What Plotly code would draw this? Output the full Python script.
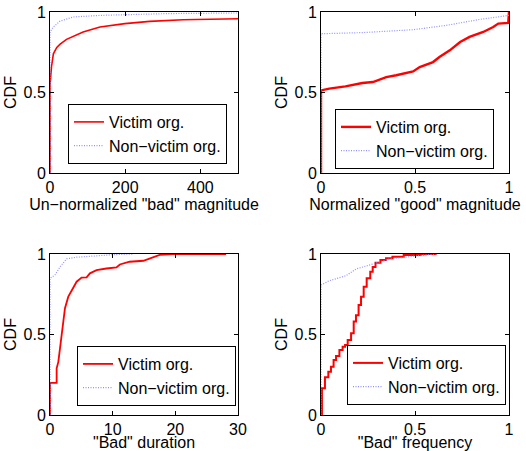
import plotly.graph_objects as go

# ---------------- data ----------------
p1_victim_x = [0, 0, 4, 9, 18, 27, 44, 88, 133, 199, 265, 354, 500]
p1_victim_y = [0, 0.55, 0.66, 0.74, 0.78, 0.80, 0.83, 0.876, 0.907, 0.928, 0.942, 0.952, 0.958]
p1_non_x = [0, 0, 9, 27, 62, 133, 310, 500]
p1_non_y = [0, 0.876, 0.907, 0.944, 0.969, 0.979, 0.99, 0.994]

p2_victim_x = [0, 0, 0.044, 0.13, 0.22, 0.276, 0.347, 0.4, 0.49, 0.525, 0.596, 0.63,
               0.685, 0.74, 0.79, 0.863, 0.916, 0.943, 0.996, 1.0]
p2_victim_y = [0, 0.513, 0.524, 0.538, 0.559, 0.565, 0.596, 0.607, 0.631, 0.658, 0.689, 0.72,
               0.762, 0.814, 0.845, 0.876, 0.907, 0.928, 0.932, 1.0]
p2_non_x = [0, 0, 0.222, 0.49, 0.667, 0.845, 1.0]
p2_non_y = [0, 0.865, 0.872, 0.89, 0.917, 0.954, 0.979]

p3_victim_x = [0, 0, 1.06, 1.06, 1.33, 1.86, 2.12, 2.39, 2.92, 3.45, 4.25, 5.04, 5.84, 6.37,
               7.43, 9, 10.6, 11.15, 12.7, 14.9, 16.2, 17.5, 19.6, 28.1]
p3_victim_y = [0, 0.2, 0.2, 0.29, 0.33, 0.497, 0.58, 0.663, 0.735, 0.776, 0.828, 0.853, 0.855, 0.88,
               0.9, 0.91, 0.917, 0.935, 0.952, 0.958, 0.977, 0.994, 1, 1]
p3_non_x = [0, 0, 0.8, 1.6, 2.65, 4.25, 8, 10, 13.3]
p3_non_y = [0, 0.849, 0.87, 0.92, 0.97, 0.98, 0.99, 0.996, 1]

p4_victim_x = [0, 0.005, 0.021, 0.039, 0.053, 0.067, 0.08, 0.098, 0.115, 0.128, 0.142, 0.16,
               0.174, 0.186, 0.2, 0.213, 0.227, 0.243, 0.262, 0.275, 0.29, 0.316, 0.346, 0.38,
               0.44, 0.53, 0.615]
p4_victim_y = [0, 0.166, 0.234, 0.269, 0.30, 0.342, 0.366, 0.404, 0.424, 0.435, 0.466, 0.507,
               0.58, 0.62, 0.683, 0.735, 0.797, 0.849, 0.89, 0.92, 0.946, 0.963, 0.973, 0.983,
               0.994, 1.0, 1.0]
p4_non_x = [0, 0, 0.044, 0.133, 0.187, 0.258, 0.365, 0.49, 0.614]
p4_non_y = [0, 0.807, 0.834, 0.865, 0.907, 0.932, 0.969, 0.986, 1]

x_titles = ['Un\u2212normalized "bad" magnitude', 'Normalized "good" magnitude',
            '"Bad" duration', '"Bad" frequency']
x_ranges = [[0, 500], [0, 1], [0, 30], [0, 1]]
x_ticks = [[0, 200, 400], [0, 0.5, 1], [0, 10, 20, 30], [0, 0.5, 1]]
y_ticks = [0, 0.5, 1]
series_names = ["Victim org.", "Non\u2212victim org."]

# ---------------- layout geometry ----------------
W, H = 526, 451
FONT = "Liberation Sans, Arial, Helvetica, sans-serif"
FS = 16
RED = "#ff0000"
BLUE = "#9090ff"

# pixel boxes (left, right, top, bottom)
boxes = [(50, 238, 12, 173), (321, 509, 12, 173), (50, 238, 254, 415), (321, 509, 254, 415)]
legend_pos = [(227, 104), (494, 109), (236, 346), (506, 345)]  # right, top in px
victim_w = [1.6, 2.4, 1.8, 2.0]

victims = [(p1_victim_x, p1_victim_y), (p2_victim_x, p2_victim_y),
           (p3_victim_x, p3_victim_y), (p4_victim_x, p4_victim_y)]
nons = [(p1_non_x, p1_non_y), (p2_non_x, p2_non_y),
        (p3_non_x, p3_non_y), (p4_non_x, p4_non_y)]

fig = go.Figure()
layout = dict(width=W, height=H, margin=dict(l=0, r=0, t=0, b=0, autoexpand=False),
              paper_bgcolor="white", plot_bgcolor="white",
              font=dict(family=FONT, size=FS, color="black"))

for i in range(4):
    n = i + 1
    xa = "x" if n == 1 else f"x{n}"
    ya = "y" if n == 1 else f"y{n}"
    lg = "legend" if n == 1 else f"legend{n}"
    vx, vy = victims[i]
    nx, ny = nons[i]
    fig.add_trace(go.Scatter(x=vx, y=vy, mode="lines", name=series_names[0],
                             line=dict(color=RED, width=victim_w[i],
                                       shape="hv" if i == 3 else "linear"),
                             xaxis=xa, yaxis=ya, legend=lg))
    fig.add_trace(go.Scatter(x=nx, y=ny, mode="lines", name=series_names[1],
                             line=dict(color=BLUE, width=1.2, dash="1px,1.5px"),
                             xaxis=xa, yaxis=ya, legend=lg))
    l, r, t, b = boxes[i]
    axcommon = dict(showline=True, linecolor="black", linewidth=1, mirror="ticks",
                    ticks="inside", ticklen=4, tickcolor="black", showgrid=False,
                    zeroline=False, automargin=False,
                    tickfont=dict(size=FS, family=FONT, color="black"))
    layout["xaxis" if n == 1 else f"xaxis{n}"] = dict(
        domain=[l / W, r / W], anchor=ya, range=x_ranges[i],
        tickvals=x_ticks[i], ticktext=[f"{v:g}" for v in x_ticks[i]],
        title=dict(text=x_titles[i], standoff=0, font=dict(size=FS)), **axcommon)
    layout["yaxis" if n == 1 else f"yaxis{n}"] = dict(
        domain=[1 - b / H, 1 - t / H], anchor=xa, range=[0, 1],
        tickvals=y_ticks, ticktext=["0", "0.5", "1"],
        title=dict(text="CDF", standoff=2, font=dict(size=FS)), **axcommon)
    rx, ty = legend_pos[i]
    layout[lg] = dict(x=rx / W, y=1 - ty / H, xanchor="right", yanchor="top",
                      bgcolor="white", bordercolor="black", borderwidth=1,
                      font=dict(size=FS, family=FONT, color="black"),
                      tracegroupgap=0, itemwidth=30)

fig.update_layout(**layout)
fig.write_html("out.html", config={"displayModeBar": False},
               post_script="document.body.style.margin='0';document.body.style.overflow='hidden';")
